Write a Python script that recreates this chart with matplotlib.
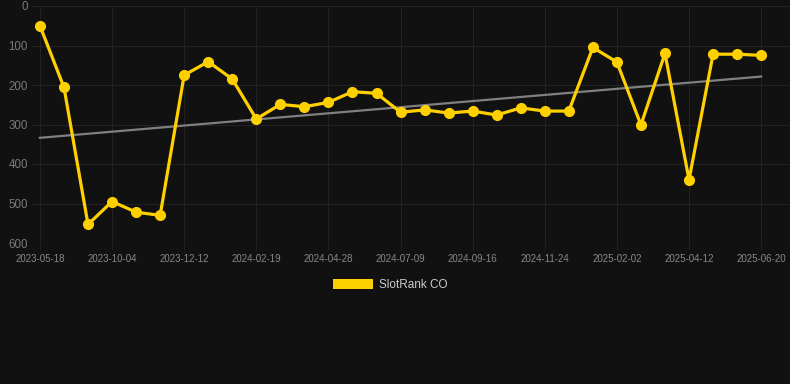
import numpy as np
import matplotlib
matplotlib.use('Agg')
import matplotlib.pyplot as plt
from matplotlib.patches import Patch

plt.rcParams['font.family'] = ['Liberation Sans', 'DejaVu Sans']

# rank per snapshot (lower is better, axis inverted)
ranks = [50, 206, 553, 495, 522, 530, 175, 141, 185, 286,
         249, 255, 244, 217, 221, 269, 263, 271, 266, 276,
         258, 266, 266, 105, 142, 301, 120, 440, 122, 122, 125]
tick_labels = ['2023-05-18', '2023-10-04', '2023-12-12', '2024-02-19',
               '2024-04-28', '2024-07-09', '2024-09-16', '2024-11-24',
               '2025-02-02', '2025-04-12', '2025-06-20']
tick_step = 3
series_name = 'SlotRank CO'

bg = '#111111'
gold = '#ffd000'

x = np.arange(len(ranks))
y = np.array(ranks, dtype=float)

fig = plt.figure(figsize=(7.9, 3.84), dpi=100)
fig.patch.set_facecolor(bg)
ax = fig.add_axes([32 / 790, (384 - 243) / 384, (790 - 32) / 790, 237 / 384])
ax.set_facecolor(bg)

# trend line (least squares)
k, b = np.polyfit(x, y, 1)
ax.plot(x, k * x + b, color='#808080', lw=1.6, zorder=2)

ax.plot(x, y, color=gold, lw=2.3, marker='o', ms=7, zorder=3)

ax.set_ylim(600, 0)
ax.set_yticks([0, 100, 200, 300, 400, 500, 600])
ax.set_xlim(-0.33, 31.2)
ax.set_xticks(x[::tick_step])
ax.set_xticklabels(tick_labels)

ax.grid(True, color='#222222', lw=0.8)
ax.set_axisbelow(True)
for s in ax.spines.values():
    s.set_visible(False)
ax.tick_params(axis='y', length=0, pad=3, colors='#7a7a7a', labelsize=8.3)
ax.tick_params(axis='x', length=5, color='#222222', pad=3, colors='#888888', labelsize=7)

fig.legend(handles=[Patch(facecolor=gold, edgecolor='none', label=series_name)],
           loc='center', bbox_to_anchor=(390 / 790, 1 - 285 / 384),
           frameon=False, fontsize=8.5, labelcolor='#cccccc',
           handlelength=3.4, handleheight=0.95, handletextpad=0.5)

fig.savefig('out.png', dpi=100, facecolor=bg)
